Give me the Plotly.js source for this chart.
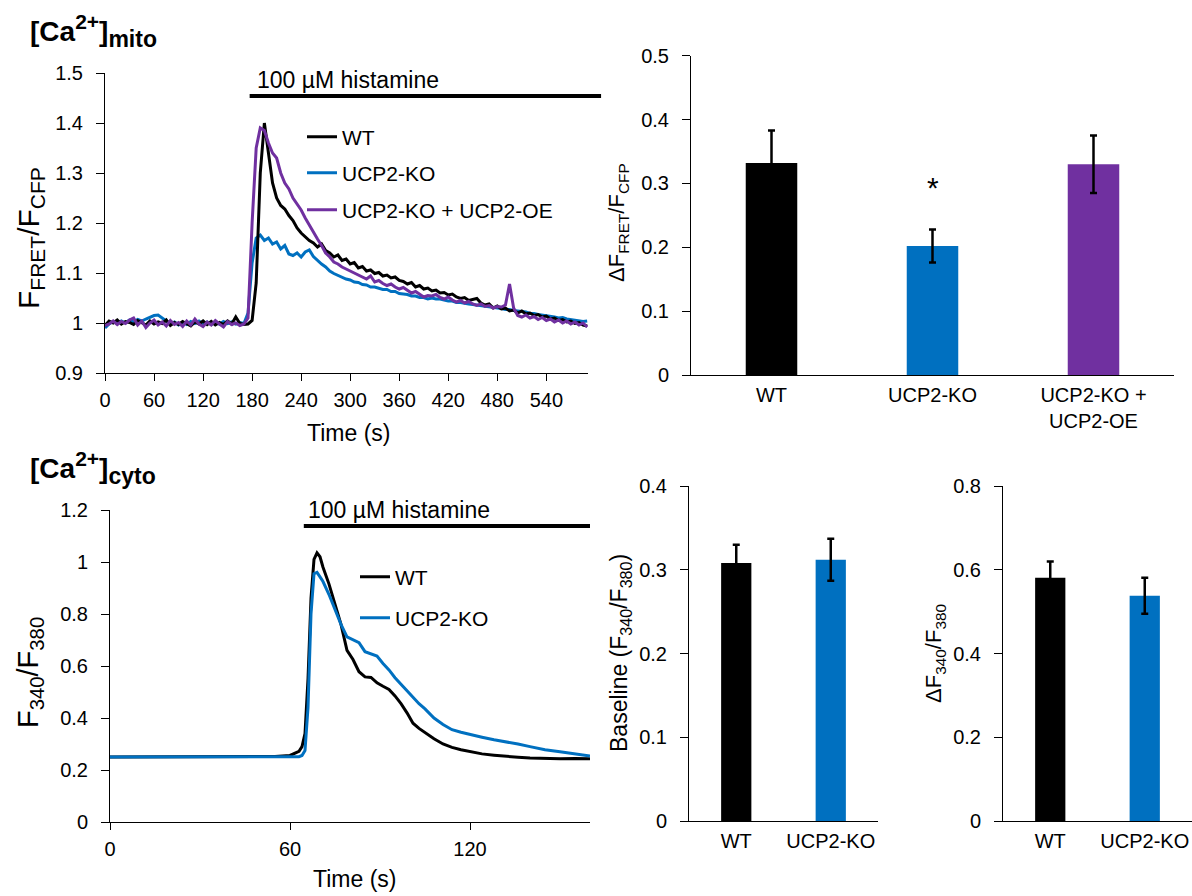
<!DOCTYPE html>
<html>
<head>
<meta charset="utf-8">
<script src="https://cdn.plot.ly/plotly-3.0.1.min.js"></script>
<style>html,body{margin:0;padding:0;background:#fff;}#chart{width:1192px;height:896px;}</style>
</head>
<body>
<div id="chart"></div>
<script>
// ---------- DATA ----------
// Mitochondrial Ca2+ traces (F_FRET/F_CFP), sampled every 5 s from t = 0 to 590 s
const mitoStart = 0;
const mitoStep = 5;
const mitoWT = [
  0.995,1.004,1.000,1.006,0.998,1.003,1.001,0.997,1.005,1.000,
  0.996,1.004,0.998,1.002,0.999,1.006,0.995,1.001,0.997,1.003,
  0.999,0.994,1.002,0.998,1.004,0.997,1.003,0.996,1.001,0.997,
  1.004,0.998,1.012,0.999,0.997,0.998,1.005,1.080,1.300,1.400,
  1.340,1.280,1.250,1.235,1.228,1.215,1.205,1.190,1.180,1.172,
  1.165,1.160,1.152,1.158,1.145,1.140,1.132,1.136,1.125,1.128,
  1.118,1.121,1.110,1.113,1.104,1.106,1.099,1.101,1.094,1.096,
  1.090,1.092,1.085,1.083,1.078,1.081,1.072,1.075,1.068,1.070,
  1.064,1.066,1.060,1.061,1.056,1.058,1.052,1.049,1.051,1.045,
  1.047,1.049,1.040,1.036,1.038,1.030,1.034,1.028,1.030,1.024,
  1.026,1.020,1.024,1.018,1.020,1.015,1.017,1.012,1.014,1.008,
  1.010,1.005,1.007,1.002,1.004,0.999,1.001,0.996,0.994
];
const mitoKO = [
  0.990,0.998,1.003,0.999,1.004,1.000,1.006,1.002,1.007,1.004,
  1.008,1.012,1.015,1.016,1.010,1.003,0.998,1.002,0.996,1.001,
  0.997,1.003,0.999,1.004,0.998,1.002,0.997,1.001,0.998,1.003,
  0.999,1.002,0.998,1.001,0.999,1.020,1.120,1.170,1.176,1.165,
  1.170,1.158,1.162,1.148,1.155,1.138,1.135,1.140,1.132,1.142,
  1.146,1.133,1.125,1.118,1.112,1.104,1.099,1.095,1.091,1.088,
  1.086,1.082,1.081,1.077,1.076,1.072,1.072,1.069,1.067,1.067,
  1.063,1.063,1.059,1.058,1.057,1.054,1.054,1.051,1.051,1.048,
  1.050,1.048,1.048,1.046,1.044,1.044,1.041,1.041,1.039,1.038,
  1.037,1.036,1.034,1.033,1.032,1.031,1.030,1.029,1.027,1.027,
  1.025,1.024,1.022,1.022,1.019,1.019,1.017,1.016,1.014,1.013,
  1.012,1.010,1.011,1.008,1.007,1.006,1.004,1.003,1.004
];
const mitoOE = [
  0.995,0.998,1.004,0.997,1.003,0.999,1.006,1.010,0.996,1.004,
  0.991,1.000,1.006,0.996,1.002,0.994,1.005,0.997,1.001,0.993,
  1.004,0.996,1.008,0.998,0.993,1.002,0.996,1.005,0.998,0.992,
  1.003,0.997,1.000,0.995,0.998,1.010,1.200,1.350,1.390,1.385,
  1.360,1.340,1.330,1.300,1.280,1.268,1.250,1.238,1.226,1.210,
  1.195,1.180,1.168,1.155,1.140,1.132,1.122,1.118,1.112,1.108,
  1.104,1.100,1.096,1.092,1.088,1.094,1.082,1.085,1.079,1.075,
  1.078,1.072,1.068,1.071,1.066,1.060,1.063,1.058,1.052,1.055,
  1.054,1.057,1.051,1.048,1.052,1.046,1.042,1.045,1.040,1.043,
  1.038,1.035,1.038,1.033,1.035,1.030,1.033,1.032,1.036,1.078,
  1.030,1.015,1.012,1.016,1.010,1.013,1.007,1.011,1.005,1.008,
  1.002,1.006,1.000,1.004,0.998,1.002,0.996,1.000,0.992
];
const mitoHistamine = [177, 607];   // s, application period (extends past the axis)

// Cytosolic Ca2+ traces (F340/F380)
const tCyto = [0,20,40,55,60,62,63,64,65,66,67,68,69,70,71,73,75,77,79,81,83,85,87,89,91,93,95,97,99,101,103,105,108,111,114,117,120,124,128,132,136,140,145,150,155,160];
const cytoWT = [0.25,0.25,0.25,0.252,0.256,0.265,0.272,0.29,0.34,0.55,0.86,1.01,1.035,1.02,0.98,0.915,0.84,0.76,0.66,0.625,0.578,0.558,0.556,0.535,0.522,0.51,0.485,0.455,0.42,0.38,0.36,0.343,0.32,0.30,0.287,0.278,0.27,0.262,0.257,0.252,0.249,0.246,0.244,0.243,0.244,0.243];
const cytoKO = [0.25,0.25,0.25,0.25,0.25,0.25,0.251,0.256,0.275,0.44,0.80,0.955,0.96,0.943,0.925,0.875,0.815,0.76,0.712,0.702,0.69,0.655,0.645,0.638,0.61,0.585,0.555,0.53,0.505,0.482,0.455,0.435,0.40,0.375,0.355,0.345,0.338,0.326,0.316,0.309,0.30,0.29,0.278,0.27,0.262,0.254];
const cytoHistamine = [64.6, 160];

// Bar summaries
const mitoCats = ['WT', 'UCP2-KO', 'UCP2-KO +<br>UCP2-OE'];
const mitoDelta = [0.332, 0.202, 0.330];
const mitoDeltaErr = [0.051, 0.026, 0.045];
const mitoSig = ['', '*', ''];

const cytoCats = ['WT', 'UCP2-KO'];
const cytoBaseline = [0.308, 0.312];
const cytoBaselineErr = [0.022, 0.025];
const cytoDelta = [0.581, 0.538];
const cytoDeltaErr = [0.039, 0.043];

// ---------- STYLE ----------
const W = 1192, H = 896;
const FONT = 'Arial, "Liberation Sans", Helvetica, sans-serif';
const C_WT = '#000000', C_KO = '#0070C0', C_OE = '#7030A0';
const px = x => x / W;
const py = y => 1 - y / H;

const dom = {
  tlx: [px(105), px(588)], tly: [py(373), py(73)],
  trx: [px(691), px(1174)], try_: [py(375), py(55.7)],
  blx: [px(110), px(590)], bly: [py(822), py(510)],
  bmx: [px(689), px(878)], bmy: [py(821), py(486)],
  brx: [px(1003), px(1192)], bry: [py(821), py(486)]
};
const rng = { tlx: [0, 591], tly: [0.9, 1.5], blx: [0, 160], bly: [0, 1.2] };
const mapX = (v, d, r) => d[0] + (v - r[0]) / (r[1] - r[0]) * (d[1] - d[0]);

const lineW = 3;
const traces = [
  {type:'scatter', mode:'lines', name:'UCP2-KO', y: mitoKO, x0: mitoStart, dx: mitoStep,
   line:{color:C_KO, width:lineW}, xaxis:'x', yaxis:'y', legend:'legend2'},
  {type:'scatter', mode:'lines', name:'WT', y: mitoWT, x0: mitoStart, dx: mitoStep,
   line:{color:C_WT, width:lineW}, xaxis:'x', yaxis:'y', legend:'legend'},
  {type:'scatter', mode:'lines', name:'UCP2-KO + UCP2-OE', y: mitoOE, x0: mitoStart, dx: mitoStep,
   line:{color:C_OE, width:lineW}, xaxis:'x', yaxis:'y', legend:'legend3'},
  {type:'bar', x:[0,1,2], y: mitoDelta, width:0.32, showlegend:false,
   marker:{color:[C_WT, C_KO, C_OE], line:{width:0}},
   error_y:{type:'data', array: mitoDeltaErr, visible:true, color:'#000', thickness:2.5, width:3.5},
   xaxis:'x2', yaxis:'y2'},
  {type:'scatter', mode:'lines', name:'WT', x: tCyto, y: cytoWT,
   line:{color:C_WT, width:lineW}, xaxis:'x3', yaxis:'y3', legend:'legend4'},
  {type:'scatter', mode:'lines', name:'UCP2-KO', x: tCyto, y: cytoKO,
   line:{color:C_KO, width:lineW}, xaxis:'x3', yaxis:'y3', legend:'legend5'},
  {type:'bar', x:[0,1], y: cytoBaseline, width:0.32, showlegend:false,
   marker:{color:[C_WT, C_KO], line:{width:0}},
   error_y:{type:'data', array: cytoBaselineErr, visible:true, color:'#000', thickness:2.5, width:3.5},
   xaxis:'x4', yaxis:'y4'},
  {type:'bar', x:[0,1], y: cytoDelta, width:0.32, showlegend:false,
   marker:{color:[C_WT, C_KO], line:{width:0}},
   error_y:{type:'data', array: cytoDeltaErr, visible:true, color:'#000', thickness:2.5, width:3.5},
   xaxis:'x5', yaxis:'y5'}
];

const tickFont = {family: FONT, size: 20, color: '#000'};
const baseAx = {showgrid:false, zeroline:false, showline:true, linecolor:'#000', linewidth:1,
  tickfont: tickFont, tickcolor:'#000', tickwidth:1, fixedrange:true};
const yAx = (domain, range, dtick, anchor) => Object.assign({}, baseAx, {
  domain, range, dtick, anchor, ticks:'outside', ticklen:8, ticklabelstandoff:9});
const xLineAx = (domain, range, anchor) => Object.assign({}, baseAx, {
  domain, range, dtick:60, tick0:0, anchor, ticks:'outside', ticklen:7, ticklabelstandoff:2});
const xCatAx = (domain, n, labels, anchor) => Object.assign({}, baseAx, {
  domain, range:[-0.5, n - 0.5], anchor, tickmode:'array', tickvals: labels.map((_, i) => i),
  ticktext: labels, ticks:'outside', ticklen:2, tickcolor:'rgba(0,0,0,0)', ticklabelstandoff:0});
const overlayTicks = (over, range, anchor) => ({overlaying: over, anchor, range, dtick:60, tick0:0,
  ticks:'inside', ticklen:5, tickwidth:1, tickcolor:'#000', showticklabels:false, showline:false,
  showgrid:false, zeroline:false, fixedrange:true});

const legFont = {family: FONT, size: 21, color: '#000'};
const leg = (x, y) => ({x: px(x), y: py(y), xanchor:'left', yanchor:'middle',
  bgcolor:'rgba(0,0,0,0)', borderwidth:0, font: legFont});

const ann = (text, x, y, opts) => Object.assign({text, x: px(x), y: py(y), xref:'paper', yref:'paper',
  showarrow:false, xanchor:'center', yanchor:'middle', font:{family:FONT, size:23, color:'#000'}}, opts || {});

const titleFont = {family:FONT, size:28, color:'#000'};
const annotations = [
  ann('<b>[Ca<sup><span style="font-size:21px">2+</span></sup>]<sub><span style="font-size:23px">mito</span></sub></b>', 28, 31, {xanchor:'left', font:titleFont}),
  ann('<b>[Ca<sup><span style="font-size:21px">2+</span></sup>]<sub><span style="font-size:23px">cyto</span></sub></b>', 28, 468, {xanchor:'left', font:titleFont}),
  ann('100 µM histamine', 255, 80, {xanchor:'left'}),
  ann('100 µM histamine', 306, 510, {xanchor:'left'}),
  ann('F<sub>FRET</sub>/F<sub>CFP</sub>', 30, 238, {textangle:-90, font:{family:FONT, size:30, color:'#000'}}),
  ann('ΔF<sub>FRET</sub>/F<sub>CFP</sub>', 618, 222, {textangle:-90, font:{family:FONT, size:22, color:'#000'}}),
  ann('F<sub>340</sub>/F<sub>380</sub>', 30, 672, {textangle:-90, font:{family:FONT, size:29, color:'#000'}}),
  ann('Baseline (F<sub>340</sub>/F<sub>380</sub>)', 620, 653, {textangle:-90, font:{family:FONT, size:23, color:'#000'}}),
  ann('ΔF<sub>340</sub>/F<sub>380</sub>', 935, 654, {textangle:-90, font:{family:FONT, size:22, color:'#000'}}),
  ann('Time (s)', 348, 433),
  ann('Time (s)', 354, 879)
];
mitoSig.forEach((s, i) => {
  if (s) annotations.push({text:s, x:i, y: mitoDelta[i] + mitoDeltaErr[i] + 0.065, xref:'x2', yref:'y2',
    showarrow:false, xanchor:'center', yanchor:'middle', font:{family:FONT, size:30, color:'#000'}});
});

const shapes = [
  {type:'line', xref:'paper', yref:'paper',
   x0: mapX(mitoHistamine[0], dom.tlx, rng.tlx), x1: mapX(mitoHistamine[1], dom.tlx, rng.tlx),
   y0: py(96), y1: py(96), line:{color:'#000', width:4}},
  {type:'line', xref:'paper', yref:'paper',
   x0: mapX(cytoHistamine[0], dom.blx, rng.blx), x1: mapX(cytoHistamine[1], dom.blx, rng.blx),
   y0: py(526), y1: py(526), line:{color:'#000', width:4}}
];

const layout = {
  width: W, height: H, margin:{l:0, r:0, t:0, b:0},
  paper_bgcolor:'#fff', plot_bgcolor:'rgba(0,0,0,0)',
  font:{family: FONT, color:'#000'},
  showlegend: true,
  xaxis: xLineAx(dom.tlx, rng.tlx, 'y'),
  yaxis: yAx(dom.tly, rng.tly, 0.1, 'x'),
  xaxis2: xCatAx(dom.trx, 3, mitoCats, 'y2'),
  yaxis2: yAx(dom.try_, [0, 0.5], 0.1, 'x2'),
  xaxis3: xLineAx(dom.blx, rng.blx, 'y3'),
  yaxis3: yAx(dom.bly, rng.bly, 0.2, 'x3'),
  xaxis4: xCatAx(dom.bmx, 2, cytoCats, 'y4'),
  yaxis4: yAx(dom.bmy, [0, 0.4], 0.1, 'x4'),
  xaxis5: xCatAx(dom.brx, 2, cytoCats, 'y5'),
  yaxis5: yAx(dom.bry, [0, 0.8], 0.2, 'x5'),
  xaxis6: overlayTicks('x', rng.tlx, 'y'),
  xaxis7: overlayTicks('x3', rng.blx, 'y3'),
  legend: leg(302, 137),
  legend2: leg(302, 173),
  legend3: leg(302, 210),
  legend4: leg(355, 577),
  legend5: leg(355, 618),
  annotations, shapes
};

Plotly.newPlot('chart', traces, layout, {displayModeBar:false, staticPlot:true});
</script>
</body>
</html>
